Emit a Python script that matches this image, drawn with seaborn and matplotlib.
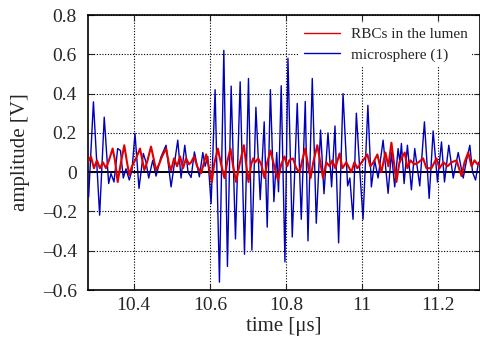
import numpy as np
import pandas as pd
import matplotlib
matplotlib.use("Agg")
import matplotlib.pyplot as plt
import seaborn as sns
from matplotlib.ticker import FuncFormatter
from matplotlib.lines import Line2D

# ---- data ----
blue_t = [10.2816, 10.2942, 10.3105, 10.3226, 10.3342, 10.3403, 10.3482, 10.3579, 10.3653, 10.3726,
          10.3797, 10.3884, 10.3955, 10.4034, 10.4139, 10.4253, 10.4324, 10.4395, 10.4500, 10.4587,
          10.4718, 10.4850, 10.4982, 10.5158, 10.5245, 10.5342, 10.5429, 10.5508, 10.5595, 10.5726,
          10.5816, 10.5876, 10.5947, 10.6034, 10.6139, 10.6253, 10.6368, 10.6463, 10.6561, 10.6674,
          10.6797, 10.6911, 10.7016, 10.7105, 10.7211, 10.7324, 10.7429, 10.7508, 10.7592, 10.7684,
          10.7758, 10.7805, 10.7876, 10.7974, 10.8053, 10.8166, 10.8297, 10.8403, 10.8508, 10.8579,
          10.8692, 10.8797, 10.8910, 10.9000, 10.9105, 10.9200, 10.9289, 10.9384, 10.9500, 10.9621,
          10.9679, 10.9763, 10.9850, 10.9937, 11.0026, 11.0153, 11.0245, 11.0332, 11.0421, 11.0553,
          11.0684, 11.0771, 11.0858, 11.0947, 11.0995, 11.1034, 11.1105, 11.1192, 11.1297, 11.1384,
          11.1516, 11.1639, 11.1763, 11.1868, 11.1982, 11.2087, 11.2166, 11.2279, 11.2395, 11.2526,
          11.2658, 11.2745, 11.2832, 11.2903, 11.2982, 11.3060, 11.3139]
blue_v = [-0.126, 0.358, -0.219, 0.280, -0.058, -0.007, -0.050, 0.120, 0.110, -0.030,
          0.017, -0.040, 0.010, 0.197, -0.083, 0.095, 0.050, -0.030, 0.060, -0.020,
          0.078, 0.137, -0.075, 0.163, -0.030, 0.137, 0.000, -0.027, 0.103, -0.024,
          0.100, 0.030, 0.080, -0.160, 0.420, -0.560, 0.620, -0.480, 0.438, -0.340,
          0.460, -0.418, 0.477, -0.397, 0.330, -0.140, 0.256, -0.280, 0.420, -0.150,
          0.100, -0.100, 0.440, -0.457, 0.580, -0.330, 0.350, -0.240, 0.360, -0.350,
          0.477, -0.260, 0.214, -0.110, 0.200, -0.075, 0.235, -0.360, 0.400, -0.070,
          -0.030, -0.240, 0.300, 0.020, -0.240, 0.340, -0.075, 0.060, -0.030, 0.163,
          -0.108, 0.100, -0.075, 0.120, 0.050, 0.146, -0.058, 0.137, -0.090, 0.120,
          -0.070, 0.256, -0.134, 0.210, -0.050, 0.154, -0.050, 0.137, -0.030, 0.100,
          -0.030, 0.060, 0.137, 0.000, -0.040, 0.050, 0.030]

red_t = [10.2824, 10.2876, 10.2955, 10.3034, 10.3113, 10.3192, 10.3271, 10.3350, 10.3447, 10.3508,
         10.3579, 10.3666, 10.3753, 10.3824, 10.3884, 10.3955, 10.4061, 10.4166, 10.4279, 10.4350,
         10.4455, 10.4534, 10.4587, 10.4666, 10.4745, 10.4850, 10.4929, 10.4982, 10.5061, 10.5140,
         10.5218, 10.5297, 10.5376, 10.5455, 10.5508, 10.5587, 10.5666, 10.5771, 10.5850, 10.5903,
         10.5982, 10.6053, 10.6113, 10.6210, 10.6297, 10.6384, 10.6455, 10.6542, 10.6613, 10.6692,
         10.6771, 10.6895, 10.6955, 10.7016, 10.7087, 10.7139, 10.7192, 10.7271, 10.7350, 10.7437,
         10.7508, 10.7595, 10.7692, 10.7790, 10.7876, 10.7963, 10.8034, 10.8087, 10.8184, 10.8271,
         10.8358, 10.8429, 10.8508, 10.8587, 10.8647, 10.8718, 10.8824, 10.8903, 10.8974, 10.9060,
         10.9147, 10.9218, 10.9297, 10.9410, 10.9482, 10.9587, 10.9718, 10.9797, 10.9876, 11.0026,
         11.0139, 11.0218, 11.0297, 11.0403, 11.0508, 11.0613, 11.0692, 11.0771, 11.0903, 11.0982,
         11.1121, 11.1192, 11.1271, 11.1376, 11.1482, 11.1605, 11.1692, 11.1824, 11.1955, 11.2034,
         11.2139, 11.2245, 11.2350, 11.2482, 11.2613, 11.2692, 11.2790, 11.2876, 11.2955, 11.3034,
         11.3139]
red_v = [0.060, 0.080, 0.020, 0.060, 0.020, 0.050, 0.020, 0.060, 0.120, 0.060,
         -0.050, 0.050, 0.137, 0.050, -0.015, 0.030, 0.070, 0.120, 0.010, 0.050,
         0.130, 0.060, 0.010, 0.040, 0.080, 0.120, 0.040, 0.010, 0.070, 0.030,
         0.080, 0.020, 0.070, 0.040, 0.050, 0.080, 0.030, -0.005, 0.050, 0.090,
         0.020, -0.050, 0.040, 0.120, 0.040, -0.030, 0.050, 0.120, 0.030, -0.050,
         0.030, 0.137, 0.040, -0.050, 0.040, 0.070, 0.050, 0.070, 0.040, -0.030,
         0.050, 0.110, 0.030, -0.040, 0.040, 0.080, 0.030, 0.060, 0.070, 0.020,
         0.000, 0.060, 0.120, 0.030, -0.030, 0.050, 0.137, 0.050, -0.030, 0.050,
         0.030, 0.060, 0.020, 0.095, 0.020, 0.050, 0.000, 0.050, 0.020, 0.060,
         0.090, 0.030, 0.050, 0.090, 0.000, 0.100, 0.030, 0.150, -0.050, 0.050,
         0.100, 0.020, 0.060, 0.040, 0.050, 0.070, 0.020, 0.020, 0.070, 0.020,
         0.050, 0.030, 0.050, 0.060, -0.020, 0.050, 0.100, 0.030, 0.060, 0.040,
         0.050]

series_names = ["RBCs in the lumen", "microsphere (1)"]
x_ticks = [10.4, 10.6, 10.8, 11.0, 11.2]
y_ticks = [-0.6, -0.4, -0.2, 0.0, 0.2, 0.4, 0.6, 0.8]

df = pd.concat([
    pd.DataFrame({"time": red_t, "amplitude": red_v, "series": series_names[0]}),
    pd.DataFrame({"time": blue_t, "amplitude": blue_v, "series": series_names[1]}),
])

sns.set_style("ticks")
plt.rcParams["font.family"] = ["Liberation Serif", "DejaVu Serif"]

fig = plt.figure(figsize=(4.81, 3.45), dpi=100)
ax = fig.add_axes([0.183, 0.1594, 0.815, 0.7971])

palette = {series_names[0]: "#e00000", series_names[1]: "#0000b8"}
sns.lineplot(data=df[df.series == series_names[1]], x="time", y="amplitude", hue="series",
             palette=palette, ax=ax, linewidth=1.0, estimator=None, sort=False, zorder=3,
             legend=False)
sns.lineplot(data=df[df.series == series_names[0]], x="time", y="amplitude", hue="series",
             palette=palette, ax=ax, linewidth=1.5, estimator=None, sort=False, zorder=4,
             legend=False)

ax.axhline(0, color="black", linewidth=1.4, zorder=2)

ax.set_xlim(10.28, 11.31)
ax.set_ylim(-0.6, 0.8)
ax.set_xticks(x_ticks)
ax.set_yticks(y_ticks)
ax.xaxis.set_major_formatter(FuncFormatter(lambda v, p: "%g" % round(v, 3)))
ax.yaxis.set_major_formatter(FuncFormatter(lambda v, p: ("%g" % round(v, 3)).replace("-", "\u2013")))

ax.grid(True, color="black", linestyle=(0, (1, 1.5)), linewidth=0.8, zorder=1)
ax.tick_params(axis="both", direction="in", length=4, width=0.8, top=True, right=True, labelsize=14)
ax.tick_params(axis="y", pad=8)
ax.tick_params(axis="x", pad=5)
for s in ax.spines.values():
    s.set_linewidth(1.2)
    s.set_color("black")

ax.set_xlabel("time [\u03bcs]", fontsize=15, labelpad=2)
ax.set_ylabel("amplitude [V]", fontsize=15, labelpad=9)

handles = [Line2D([], [], color=palette[n], linewidth=1.0) for n in series_names]
leg = ax.legend(handles, series_names, loc="upper right", fontsize=11, frameon=True,
                fancybox=False, framealpha=1.0, edgecolor="none", handlelength=2.4,
                handletextpad=0.7, labelspacing=0.45, borderpad=0.3,
                bbox_to_anchor=(1.0, 1.0))
leg.set_zorder(10)

fig.savefig("out.png", dpi=100)
